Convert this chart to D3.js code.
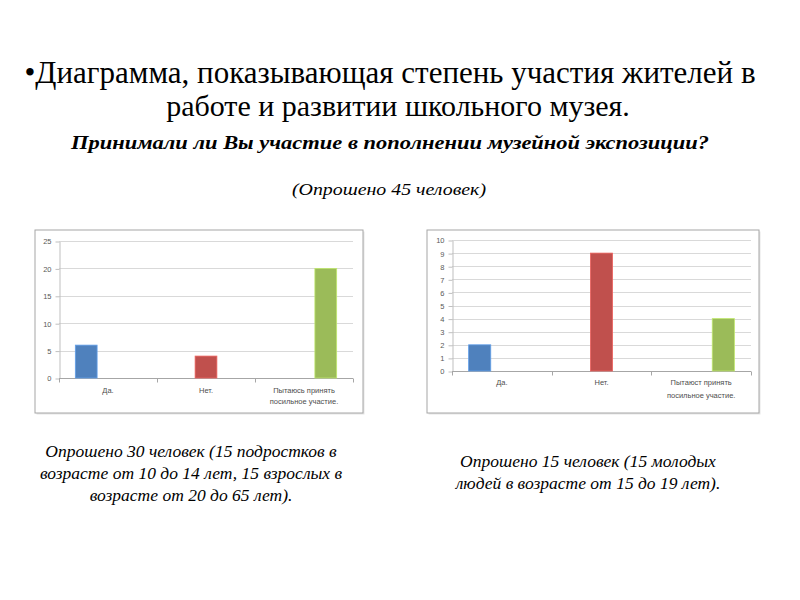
<!DOCTYPE html>
<html lang="ru">
<head>
<meta charset="UTF-8">
<title>Участие жителей в работе школьного музея</title>
<script src="https://d3js.org/d3.v7.min.js"></script>
<style>
    body { margin: 0; padding: 0; background: #fff; }
    svg { display: block; }
</style>
</head>
<body>
<div id="main"></div>
<script>
    // data
    var series = ["Да.", "Нет.", "Пытаюсь"];
    var colors = ["#4f81bd", "#c0504d", "#9bbb59"];

    var categoriesLeft = [["Да."], ["Нет."], ["Пытаюсь принять", "посильное участие."]];
    var valuesLeft = [6, 4, 20];
    var ticksLeft = [0, 5, 10, 15, 20, 25];

    var categoriesRight = [["Да."], ["Нет."], ["Пытаюст принять", "посильное участие."]];
    var valuesRight = [2, 9, 4];
    var ticksRight = [0, 1, 2, 3, 4, 5, 6, 7, 8, 9, 10];

    var width = 800, height = 600;

    var svg = d3.select("#main").append("svg")
        .attr("width", width)
        .attr("height", height);

    // headings
    var serif = "'Liberation Serif', 'Times New Roman', serif";

    svg.append("text")
        .attr("x", 390).attr("y", 83)
        .attr("text-anchor", "middle")
        .style("font-family", serif).style("font-size", "31px")
        .text("•Диаграмма, показывающая степень участия жителей в");
    svg.append("text")
        .attr("x", 398).attr("y", 116)
        .attr("text-anchor", "middle")
        .style("font-family", serif).style("font-size", "30px")
        .text("работе и развитии школьного музея.");
    svg.append("text")
        .attr("x", 390).attr("y", 149)
        .attr("text-anchor", "middle")
        .attr("textLength", 638).attr("lengthAdjust", "spacingAndGlyphs")
        .style("font-family", serif).style("font-size", "18px")
        .style("font-weight", "bold").style("font-style", "italic")
        .text("Принимали ли Вы участие в пополнении музейной экспозиции?");
    svg.append("text")
        .attr("x", 389).attr("y", 195)
        .attr("text-anchor", "middle")
        .attr("textLength", 194).attr("lengthAdjust", "spacingAndGlyphs")
        .style("font-family", serif).style("font-size", "16.5px")
        .style("font-style", "italic")
        .text("(Опрошено 45 человек)");

    function caption(lines, cx, y0) {
        var t = svg.append("text")
            .attr("text-anchor", "middle")
            .style("font-family", serif).style("font-size", "17.5px")
            .style("font-style", "italic");
        lines.forEach(function(l, i) {
            t.append("tspan").attr("x", cx).attr("y", y0 + i * 22).text(l);
        });
    }

    caption(["Опрошено 30 человек (15 подростков в",
             "возрасте от 10 до 14 лет, 15 взрослых в",
             "возрасте от 20 до 65 лет)."], 191, 457);
    caption(["Опрошено 15 человек (15 молодых",
             "людей в возрасте от 15 до 19 лет)."], 588, 467);

    function drawChart(cfg) {
        var g = svg.append("g");

        g.append("rect")
            .attr("x", cfg.frame[0] + 1.5).attr("y", cfg.frame[1] + 1.5)
            .attr("width", cfg.frame[2] - cfg.frame[0]).attr("height", cfg.frame[3] - cfg.frame[1])
            .attr("fill", "#e6e6e6");
        g.append("rect")
            .attr("x", cfg.frame[0]).attr("y", cfg.frame[1])
            .attr("width", cfg.frame[2] - cfg.frame[0]).attr("height", cfg.frame[3] - cfg.frame[1])
            .attr("fill", "#fff").attr("stroke", "#a6a6a6").attr("stroke-width", 1);

        var x = d3.scaleBand()
            .domain(d3.range(cfg.cats.length))
            .range([cfg.plot[0], cfg.plot[2]])
            .padding(0);

        var xs = d3.scaleBand()
            .domain(d3.range(series.length))
            .range([0, x.bandwidth()])
            .paddingInner(0).paddingOuter(0.75);

        var y = d3.scaleLinear()
            .domain([0, d3.max(cfg.ticks)])
            .range([cfg.plot[3], cfg.plot[1]]);

        // gridlines
        g.selectAll(".grid")
            .data(cfg.ticks.slice(1))
            .enter().append("line")
            .attr("x1", cfg.plot[0]).attr("x2", cfg.plot[2])
            .attr("y1", function(d) { return Math.round(y(d)) + 0.5; })
            .attr("y2", function(d) { return Math.round(y(d)) + 0.5; })
            .attr("stroke", "#d9d9d9");

        // y axis
        var yAxis = d3.axisLeft(y)
            .tickValues(cfg.ticks)
            .tickSize(4)
            .tickPadding(4)
            .tickSizeOuter(0);
        var ya = g.append("g")
            .attr("transform", "translate(" + (cfg.plot[0] + 0.5) + ",0.5)")
            .call(yAxis);
        ya.select(".domain").attr("stroke", "#bfbfbf");
        ya.selectAll(".tick line").attr("stroke", "#bfbfbf");
        ya.selectAll(".tick text")
            .attr("fill", "#595959")
            .style("font-family", "'Liberation Sans', Arial, sans-serif")
            .style("font-size", cfg.fs + "px");

        // x axis
        var base = Math.round(y(0)) + 0.5;
        g.append("line")
            .attr("x1", cfg.plot[0]).attr("x2", cfg.plot[2])
            .attr("y1", base).attr("y2", base)
            .attr("stroke", "#a6a6a6");
        g.selectAll(".xtick")
            .data(d3.range(cfg.cats.length + 1))
            .enter().append("line")
            .attr("x1", function(d) { return Math.round(cfg.plot[0] + d * x.step()) + 0.5; })
            .attr("x2", function(d) { return Math.round(cfg.plot[0] + d * x.step()) + 0.5; })
            .attr("y1", base).attr("y2", base + 4)
            .attr("stroke", "#a6a6a6");

        // bars: each category carries its own series slot
        g.selectAll(".bar")
            .data(cfg.values)
            .enter().append("rect")
            .attr("x", function(d, i) { return x(i) + xs(i); })
            .attr("width", xs.bandwidth())
            .attr("y", function(d) { return y(d); })
            .attr("height", function(d) { return y(0) - y(d); })
            .attr("fill", function(d, i) { return colors[i]; })
            .attr("stroke", function(d, i) { return d3.color(colors[i]).brighter(0.6); })
            .attr("stroke-width", 0.8);

        // category labels
        cfg.cats.forEach(function(lines, i) {
            var t = g.append("text")
                .attr("text-anchor", "middle")
                .attr("fill", "#4d4d4d")
                .style("font-family", "'Liberation Sans', Arial, sans-serif")
                .style("font-size", cfg.fs + "px");
            lines.forEach(function(l, j) {
                t.append("tspan")
                    .attr("x", x(i) + x.bandwidth() / 2)
                    .attr("y", y(0) + cfg.labelOffset + j * cfg.lineGap)
                    .text(l);
            });
        });
    }

    drawChart({
        frame: [35, 230, 363, 413],
        plot: [59, 241, 353, 378],
        cats: categoriesLeft,
        values: valuesLeft,
        ticks: ticksLeft,
        fs: 7.5,
        labelOffset: 15,
        lineGap: 11
    });

    drawChart({
        frame: [427, 230, 759, 413],
        plot: [452, 240, 751, 371],
        cats: categoriesRight,
        values: valuesRight,
        ticks: ticksRight,
        fs: 7.5,
        labelOffset: 14,
        lineGap: 13
    });
</script>
</body>
</html>
